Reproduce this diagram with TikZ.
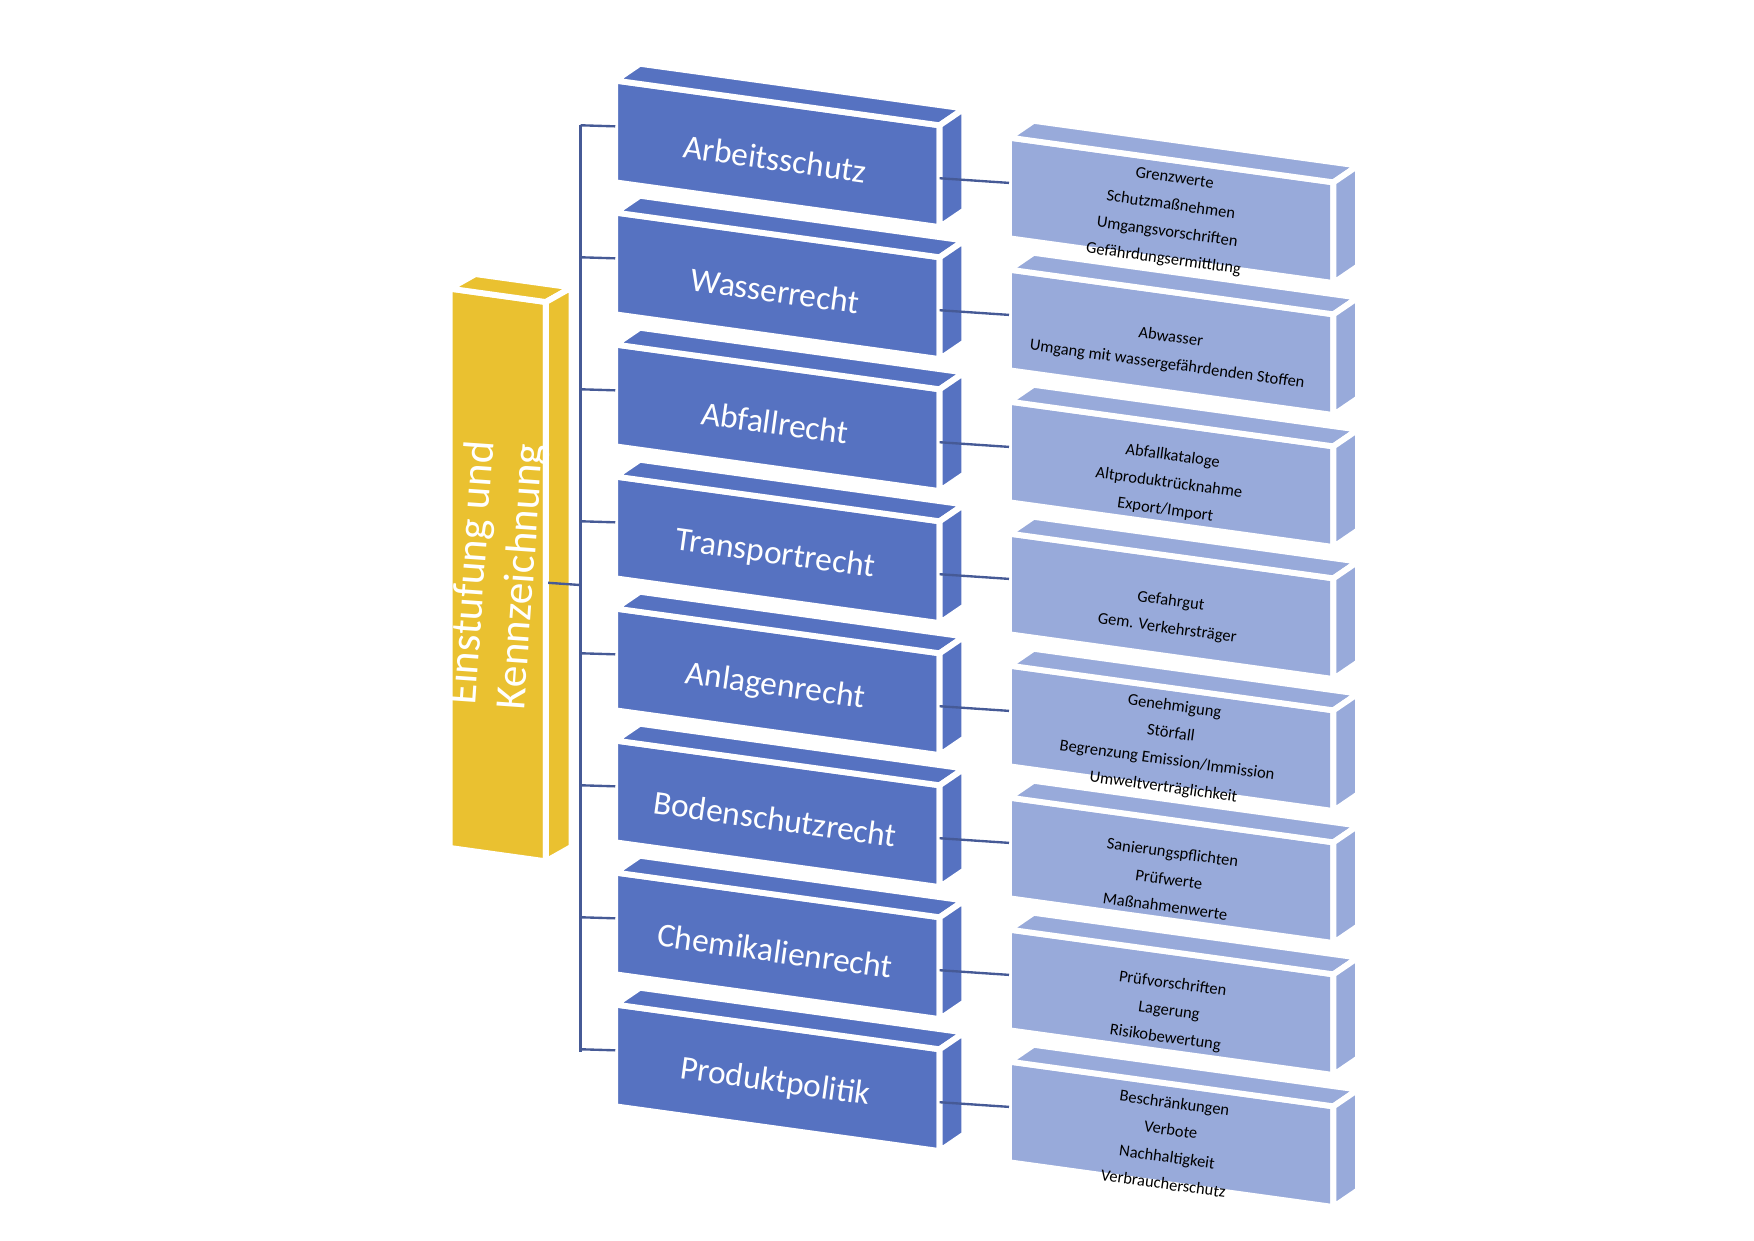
\documentclass[tikz,border=0pt]{standalone}
\usepackage{fontspec}
\setmainfont{Carlito}
\definecolor{bblue}{RGB}{86,114,193}
\definecolor{lblue}{RGB}{152,170,218}
\definecolor{yel}{RGB}{234,193,48}
\definecolor{lnc}{RGB}{70,90,150}
\newcommand\slab[8]{% name,x,y,w,h,slope,color,content
 \fill[#7,draw=white,line width=1.5pt] (#2,#3) -- ++(#4,#4*#6) -- ++(0,#5) -- ++(-#4,-#4*#6) -- cycle;
 \fill[#7,draw=white,line width=1.5pt] (#2,#3) -- ++(22,-15) -- ++(#4,#4*#6) -- ++(-22,15) -- cycle;
 \fill[#7,draw=white,line width=1.5pt] (#2+#4,#3+#4*#6) -- ++(22,-15) -- ++(0,#5) -- ++(-22,15) -- cycle;
 \coordinate (#1L) at (#2,{#3+0.45*#5});
 \coordinate (#1R) at (#2+#4,{#3+#4*#6+0.52*#5});
 #8}
\tikzset{x=0.01cm,y=-0.01cm,
 big/.style={text=white,font=\fontsize{8.5pt}{10pt}\selectfont,rotate=-7.9,inner sep=0pt},
 sm/.style={text=black,font=\fontsize{4.2pt}{6.9pt}\selectfont,rotate=-7.9,align=center,inner sep=0pt},
 ln/.style={draw=lnc,line width=0.6pt}}
\begin{document}
\begin{tikzpicture}
\useasboundingbox (0,0) rectangle (1568,1109);
% yellow bar
\fill[yel,draw=white,line width=1.5pt] (402,258) -- (488,270) -- (488,770) -- (402,758) -- cycle;
\fill[yel,draw=white,line width=1.5pt] (402,258) -- (425,245) -- (511,257) -- (488,270) -- cycle;
\fill[yel,draw=white,line width=1.5pt] (488,270) -- (511,257) -- (511,757) -- (488,770) -- cycle;
\node[text=white,font=\fontsize{11pt}{12.5pt}\selectfont,rotate=86,align=center] (ek) at (445,514) {Einstufung und\\Kennzeichnung};
\coordinate (yR) at (490,521);
\coordinate (vT) at (519,112);
\coordinate (vB) at (519,940);
\coordinate (vM) at (519,523);
\draw[ln] (vT) -- (vB);
\draw[ln] (yR) -- (vM);
\foreach \k/\t/\r in {0/Arbeitsschutz/{Grenzwerte\\Schutzmaßnehmen\\Umgangsvorschriften\\Gefährdungsermittlung},
 1/Wasserrecht/{Abwasser\\Umgang mit wassergefährdenden Stoffen},
 2/Abfallrecht/{Abfallkataloge\\Altproduktrücknahme\\Export/Import},
 3/Transportrecht/{Gefahrgut\\Gem. Verkehrsträger},
 4/Anlagenrecht/{Genehmigung\\Störfall\\Begrenzung Emission/Immission\\Umweltverträglichkeit},
 5/Bodenschutzrecht/{Sanierungspflichten\\Prüfwerte\\Maßnahmenwerte},
 6/Chemikalienrecht/{Prüfvorschriften\\Lagerung\\Risikobewertung},
 7/Produktpolitik/{Beschränkungen\\Verbote\\Nachhaltigkeit\\Verbraucherschutz}}{
 \pgfmathsetmacro\yb{72+118*\k}
 \pgfmathsetmacro\yr{123+118*\k}
 \slab{b\k}{550}{\yb}{290}{91}{0.138}{bblue}{\node[big] (tb\k) at (693,{\yb+70}) {\t};}
 \slab{r\k}{902}{\yr}{290}{90}{0.138}{lblue}{\node[sm] (tr\k) at (1045,{\yr+73}) {\r};}
 \coordinate (s\k) at (519,{\yb+40});
 \draw[ln] (s\k) -- (b\k L);
 \draw[ln] (b\k R) -- (r\k L);
}
\end{tikzpicture}
\end{document}
